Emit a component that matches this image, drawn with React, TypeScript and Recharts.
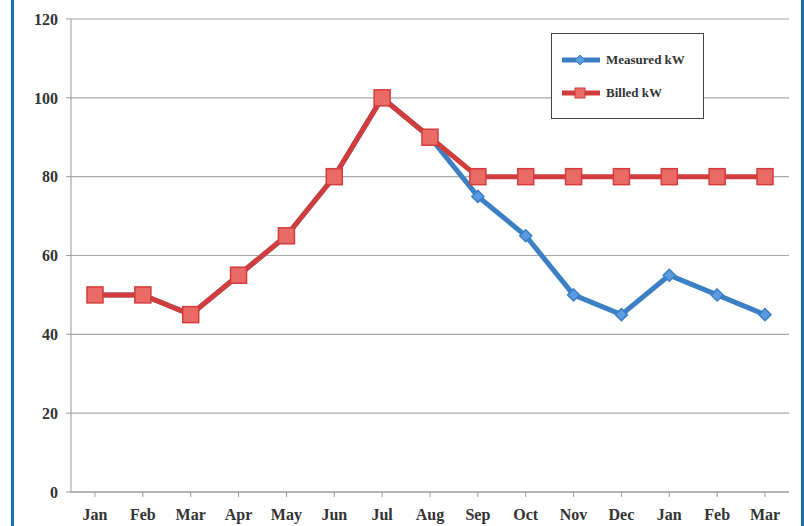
import React from 'react';
import { LineChart, Line, XAxis, YAxis, CartesianGrid } from 'recharts';

const months = ['Jan', 'Feb', 'Mar', 'Apr', 'May', 'Jun', 'Jul', 'Aug', 'Sep', 'Oct', 'Nov', 'Dec', 'Jan', 'Feb', 'Mar'];
const measuredKw = [50, 50, 45, 55, 65, 80, 100, 90, 75, 65, 50, 45, 55, 50, 45];
const billedKw = [50, 50, 45, 55, 65, 80, 100, 90, 80, 80, 80, 80, 80, 80, 80];
const yTicks = [0, 20, 40, 60, 80, 100, 120];

const BLUE = '#3b7fc4';
const RED = '#d23c3c';
const FONT = '"Liberation Serif", "DejaVu Serif", serif';

const data = months.map((m, i) => ({ month: m, measured: measuredKw[i], billed: billedKw[i] }));

function Diamond({ cx, cy }: any) {
  if (cx == null || cy == null) return null;
  const r = 6;
  return <path d={`M${cx},${cy - r}L${cx + r},${cy}L${cx},${cy + r}L${cx - r},${cy}Z`} fill="#5b9be0" stroke={BLUE} strokeWidth={1.5} />;
}

function Square({ cx, cy }: any) {
  if (cx == null || cy == null) return null;
  const s = 8;
  return <rect x={cx - s} y={cy - s} width={s * 2} height={s * 2} fill="#ea6a66" stroke={RED} strokeWidth={1.5} />;
}

function LegendBox() {
  const row = (color: string, fill: string, label: string, square: boolean) => (
    <div style={{ display: 'flex', alignItems: 'center', height: 33 }}>
      <svg width={42} height={14} style={{ marginRight: 4 }}>
        <line x1={2} y1={7} x2={40} y2={7} stroke={color} strokeWidth={5} />
        {square
          ? <rect x={15} y={2} width={10} height={10} fill={fill} stroke={color} />
          : <path d="M20,2L25,7L20,12L15,7Z" fill={fill} stroke={color} />}
      </svg>
      <span style={{ fontFamily: FONT, fontWeight: 700, fontSize: 13, color: '#333' }}>{label}</span>
    </div>
  );
  return (
    <div style={{ position: 'absolute', left: 551, top: 33, width: 153, height: 86, border: '1.5px solid #444', background: '#fff', boxSizing: 'border-box', padding: '9px 0 0 8px' }}>
      {row(BLUE, '#5b9be0', 'Measured kW', false)}
      {row(RED, '#ea6a66', 'Billed kW', true)}
    </div>
  );
}

export default function App() {
  return (
    <div style={{ position: 'absolute', left: 0, top: 0, width: 804, height: 526, background: '#fff', overflow: 'hidden' }}>
      <div style={{ position: 'absolute', left: 11, top: 0, width: 3, height: 526, background: '#1a72ad' }} />
      <div style={{ position: 'absolute', left: 801, top: 0, width: 3, height: 526, background: '#1a72ad' }} />
      <LineChart width={804} height={526} data={data} margin={{ top: 19, right: 15, bottom: 4, left: 13 }}>
        <CartesianGrid vertical={false} stroke="#a8a8a8" strokeWidth={1.2} />
        <XAxis
          dataKey="month"
          height={30}
          padding={{ left: 24, right: 24 }}
          stroke="#999"
          tickSize={5}
          tickMargin={12}
          tick={{ fontFamily: FONT, fontWeight: 700, fontSize: 16, fill: '#333' }}
        />
        <YAxis
          width={58}
          domain={[0, 120]}
          ticks={yTicks}
          stroke="#999"
          tickSize={5}
          tickMargin={8}
          tick={{ fontFamily: FONT, fontWeight: 700, fontSize: 16, fill: '#333' }}
        />
        <Line dataKey="measured" name="Measured kW" stroke={BLUE} strokeWidth={5} dot={<Diamond />} isAnimationActive={false} />
        <Line dataKey="billed" name="Billed kW" stroke={RED} strokeWidth={5} dot={<Square />} isAnimationActive={false} />
      </LineChart>
      <LegendBox />
    </div>
  );
}
